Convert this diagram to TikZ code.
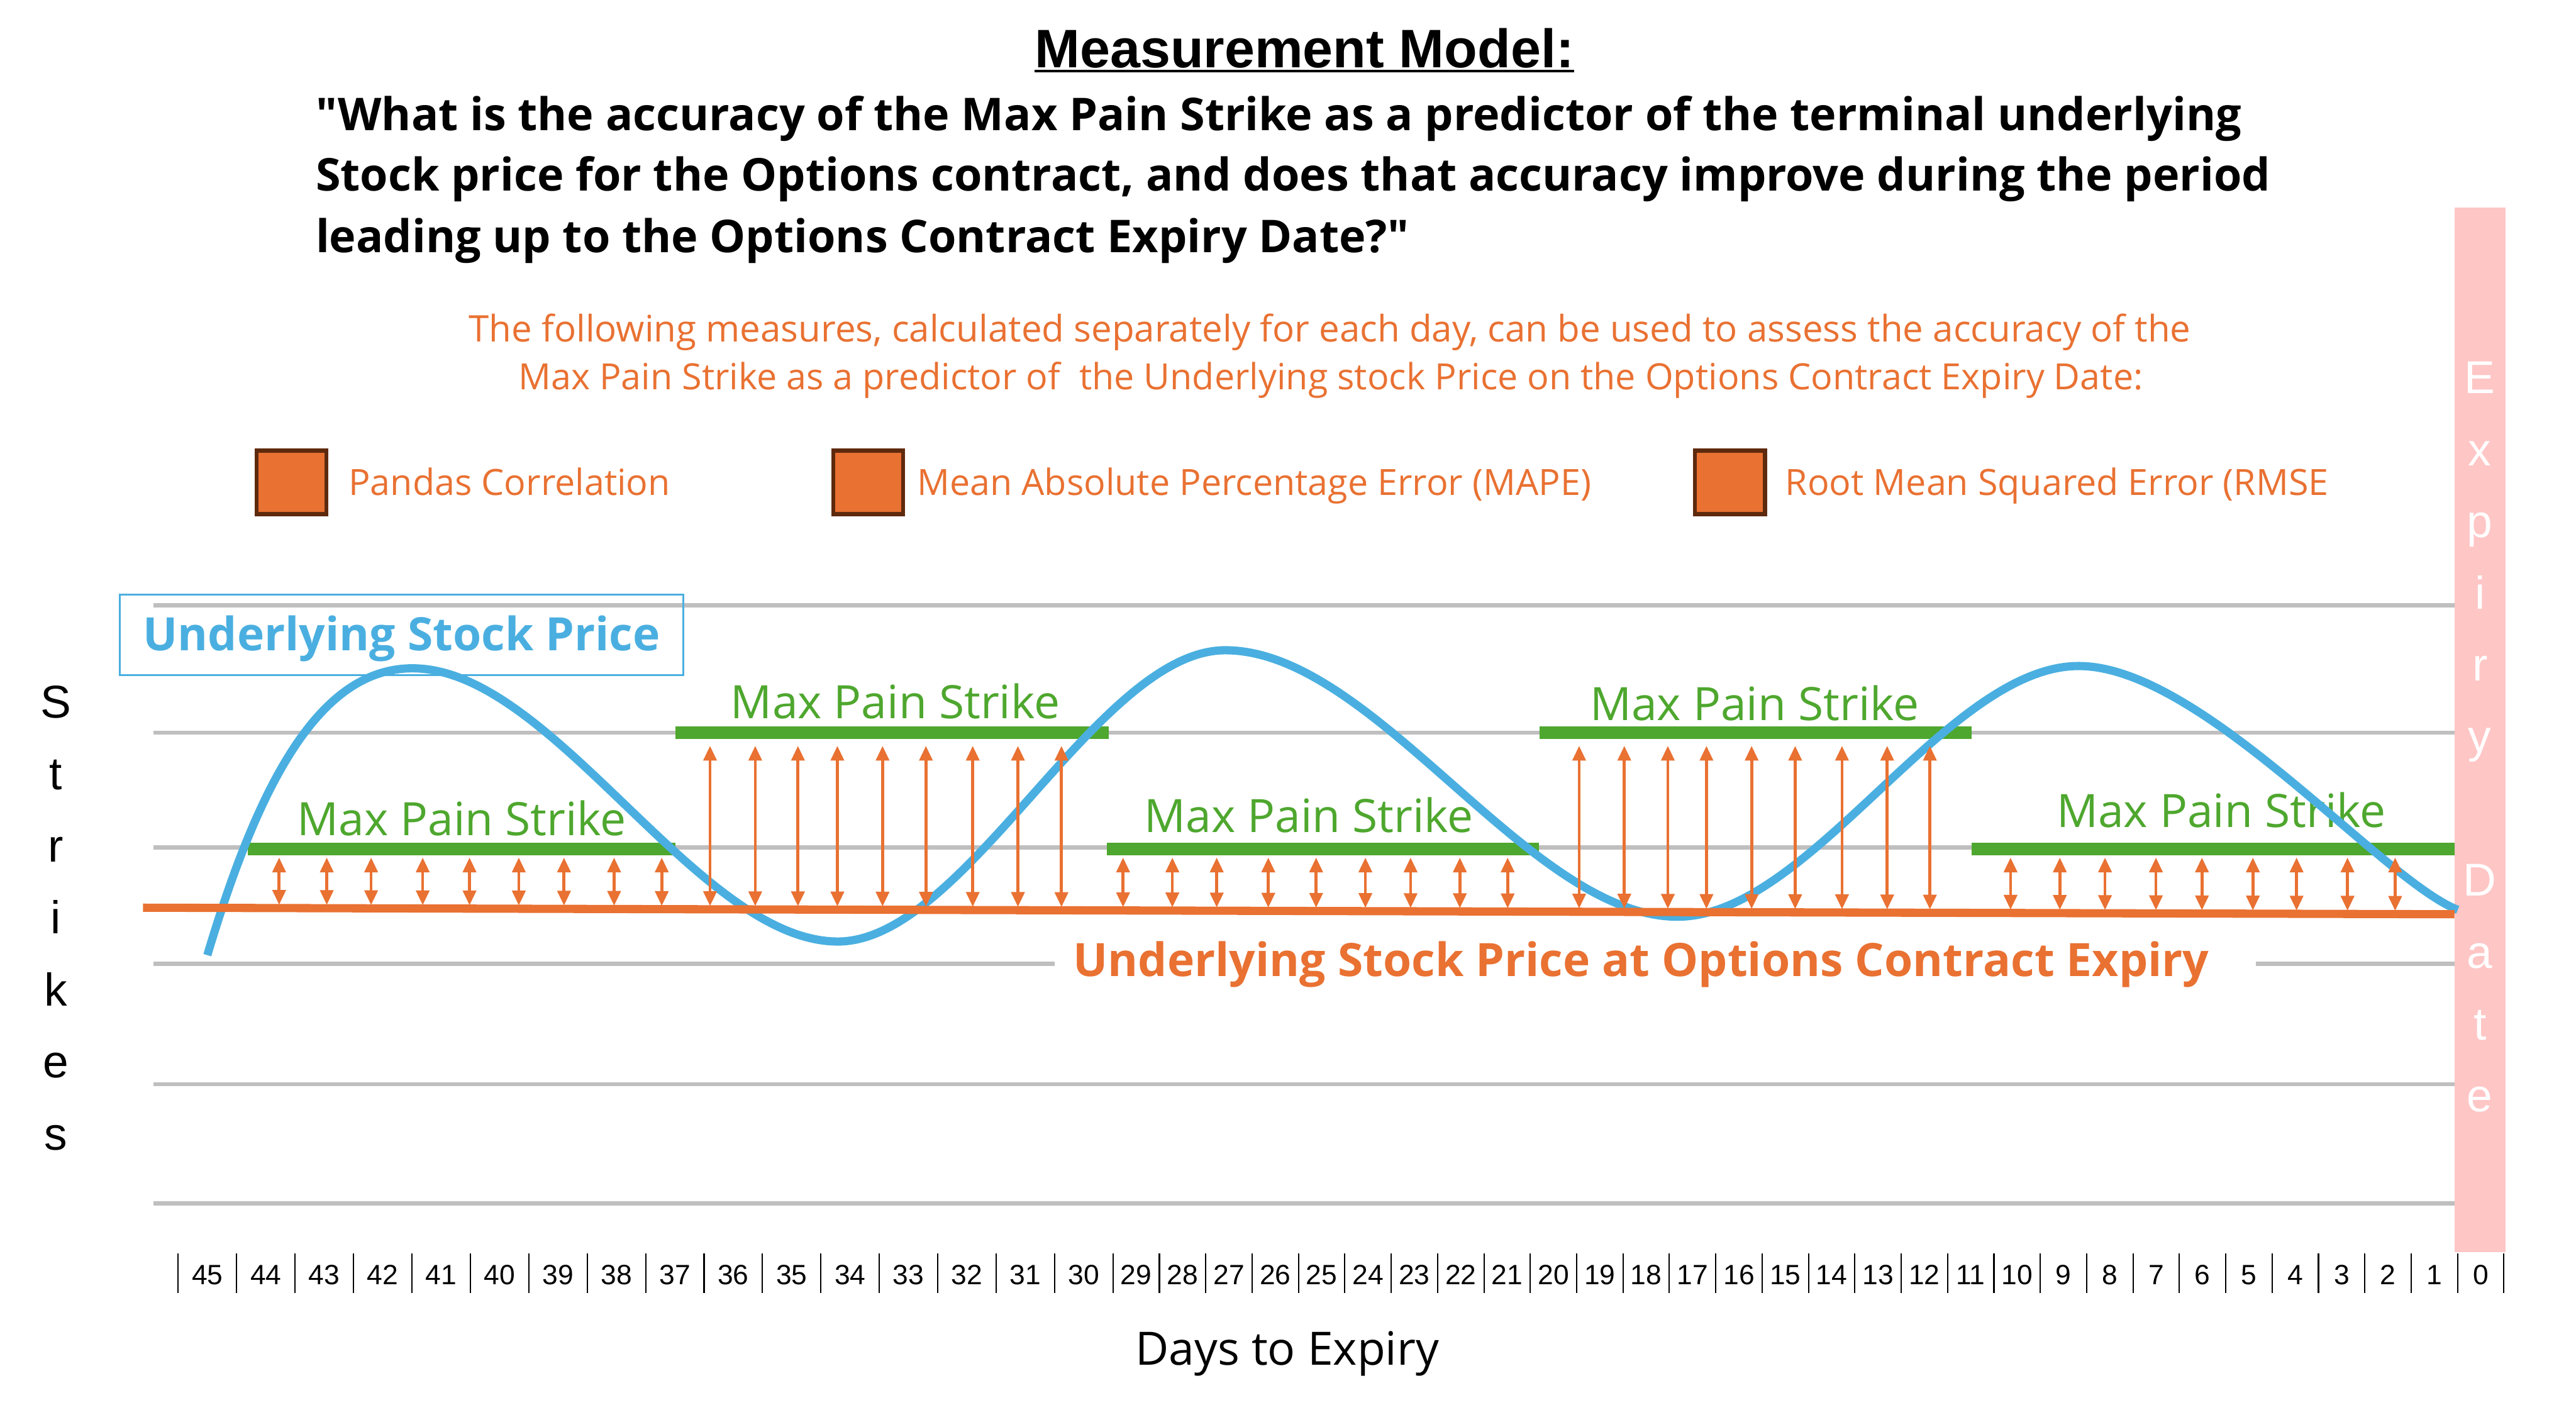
\documentclass[tikz,border=0pt]{standalone}
\usepackage{fontspec}
\setmainfont{Open Sans}[Ligatures=TeXOff]
\newfontfamily\arialfont{Liberation Sans}
\usetikzlibrary{positioning, arrows.meta}

\definecolor{priceblue}{HTML}{4AAFE0}
\definecolor{expiryorange}{HTML}{E97132}
\definecolor{strikegreen}{HTML}{4EA72E}
\definecolor{gridgray}{HTML}{BFBFBF}
\definecolor{expirypink}{HTML}{FFC6C6}
\definecolor{legendbrown}{HTML}{5E2A0E}

\newcommand{\fsize}[1]{\fontsize{#1pt}{#1pt}\selectfont}

\begin{document}
\begin{tikzpicture}[x=1pt, y=-1pt,
    gridline/.style={gridgray, line width=2.6pt},
    strikebar/.style={strikegreen, line width=7.8pt},
    strikelabel/.style={anchor=base, inner sep=0, text=strikegreen, font=\fsize{28}},
    pricecurve/.style={priceblue, line width=5pt},
    gaparrow/.style={expiryorange, line width=1.8pt, {Triangle[length=9pt, width=8pt]}-{Triangle[length=9pt, width=8pt]}},
    legendbox/.style={draw=legendbrown, line width=2.5pt, fill=expiryorange, minimum width=42.5pt, minimum height=38.5pt, inner sep=0},
    legendtext/.style={inner sep=0, text=expiryorange, font=\fsize{22}, text height=15.6pt, text depth=0pt},
    letter/.style={anchor=base, inner sep=0, font=\arialfont\fsize{28}},
    daylabel/.style={anchor=base, inner sep=0, font=\arialfont\fsize{17}},
    daysep/.style={line width=0.8pt}
]
\useasboundingbox (0,0) rectangle (1568,858);

% heading and question
\node[anchor=base, inner sep=0, font=\arialfont\bfseries\fsize{33}] (title) at (794,41) {Measurement Model:};
\draw[line width=1.6pt] ([yshift=-2.2pt]title.base west) -- ([yshift=-2.2pt]title.base east);
\node[anchor=base west, inner sep=0, font=\bfseries\fsize{27.5}] (question1) at (192,79.6) {"What is the accuracy of the Max Pain Strike as a predictor of the terminal underlying};
\node[anchor=base west, inner sep=0, font=\bfseries\fsize{27.5}] (question2) at (192,116.3) {Stock price for the Options contract, and does that accuracy improve during the period};
\node[anchor=base west, inner sep=0, font=\bfseries\fsize{27.5}] (question3) at (192,153.6) {leading up to the Options Contract Expiry Date?"};

\node[anchor=base, inner sep=0, text=expiryorange, font=\fsize{22.3}] (measures1) at (809.5,208) {The following measures, calculated separately for each day, can be used to assess the accuracy of the};
\node[anchor=base, inner sep=0, text=expiryorange, font=\fsize{22}] (measures2) at (810,237) {Max Pain Strike as a predictor of \ the Underlying stock Price on the Options Contract Expiry Date:};

% legend
\node[legendbox] (corrbox) at (177.5,293.6) {};
\node[legendtext, right=12pt of corrbox] (corrtext) {Pandas Correlation};
\node[legendbox] (mapebox) at (528.5,293.6) {};
\node[legendtext, right=7pt of mapebox] (mapetext) {Mean Absolute Percentage Error (MAPE)};
\node[legendbox] (rmsebox) at (1053,293.6) {};
\node[legendtext, right=11pt of rmsebox] (rmsetext) {Root Mean Squared Error (RMSE};

% expiry date column
\fill[expirypink] (1494,126.5) rectangle (1525,762);
\foreach \ch/\k in {E/0,x/1,p/2,i/3,r/4,y/5,D/7,a/8,t/9,e/10}
  \node[letter, text=white] (expiry\k) at (1509.5,{239.6+43.7*\k}) {\ch};

% strike levels
\foreach \yg in {368.6,446,515.7,660,732.6}
  \draw[gridline] (93.5,\yg) -- (1494,\yg);
\draw[gridline] (93.5,586.6) -- (642,586.6);
\draw[gridline] (1373,586.6) -- (1494,586.6);

\draw[strikebar] (151,516.8) -- (411,516.8);
\draw[strikebar] (411,446) -- (674.7,446);
\draw[strikebar] (673.6,516.8) -- (936.7,516.8);
\draw[strikebar] (937,446) -- (1200,446);
\draw[strikebar] (1200,516.8) -- (1494,516.8);

\node[strikelabel] (strike1) at (281,508.6) {Max Pain Strike};
\node[strikelabel] (strike2) at (545,437.3) {Max Pain Strike};
\node[strikelabel] (strike3) at (796.7,506.5) {Max Pain Strike};
\node[strikelabel] (strike4) at (1068,438.5) {Max Pain Strike};
\node[strikelabel] (strike5) at (1352,503.7) {Max Pain Strike};

% underlying price path
\draw[pricecurve] (126.2,581.4) .. controls (158,475) and (195,406.8) .. (251.1,406.8)
  .. controls (336.6,406.8) and (424.5,573.1) .. (510,573.1)
  .. controls (587.8,573.1) and (668,395.8) .. (745.8,395.8)
  .. controls (836.7,395.8) and (930.3,558) .. (1021.1,558)
  .. controls (1101.7,558) and (1184.7,405.4) .. (1265.3,405.4)
  .. controls (1340,405.4) and (1450,536) .. (1496,553.8);
\node[draw=priceblue, line width=1pt, minimum width=343pt, minimum height=49pt, text=priceblue, font=\bfseries\fsize{28}, text height=26pt, text depth=7pt] (pricebox) at (244.5,386.5) {Underlying Stock Price};

% distance to expiry price
\foreach \xa in {169.9,198.9,225.9,257.3,285.8,315.8,343.3,373.8,402.8,
                 683.6,713.6,740.6,772,801.1,831.1,858.6,888.6,917.7,
                 1223.8,1253.8,1281.3,1312.3,1340.3,1371.3,1397.9,1428.9,1457.9}
  \draw[gaparrow] (\xa,522) -- (\xa,{550.5+(\xa-87)*0.00284});
\foreach \xa in {432.2,459.7,485.7,509.7,537.2,563.6,592.1,619.6,646.1,
                 961.2,988.7,1015.2,1038.7,1066.2,1092.7,1121.2,1148.7,1174.7}
  \draw[gaparrow] (\xa,454) -- (\xa,{550.5+(\xa-87)*0.00284});

\draw[expiryorange, line width=5pt] (87,552.5) -- (1494,556.5);
\node[anchor=base, inner sep=0, text=expiryorange, font=\bfseries\fsize{28}] (expirylabel) at (999,594.5) {Underlying Stock Price at Options Contract Expiry};

% axes
\foreach \ch/\k in {S/0,t/1,r/2,i/3,k/4,e/5,s/6}
  \node[letter] (strikes\k) at (34,{437+43.8*\k}) {\ch};

\foreach \k in {0,...,15} {
  \pgfmathsetmacro\xl{108.5+35.56*\k}
  \pgfmathtruncatemacro\dd{45-\k}
  \draw[daysep] (\xl,763) -- (\xl,787);
  \node[daylabel] (day\dd) at (\xl+17.78,782) {\dd};
}
\foreach \k in {0,...,29} {
  \pgfmathsetmacro\xl{677.5+28.22*\k}
  \pgfmathtruncatemacro\dd{29-\k}
  \draw[daysep] (\xl,763) -- (\xl,787);
  \node[daylabel] (day\dd) at (\xl+14.11,782) {\dd};
}
\draw[daysep] (1524,763) -- (1524,787);

\node[anchor=base, inner sep=0, font=\fsize{28}] (daysaxis) at (783.5,831) {Days to Expiry};

\end{tikzpicture}
\end{document}
